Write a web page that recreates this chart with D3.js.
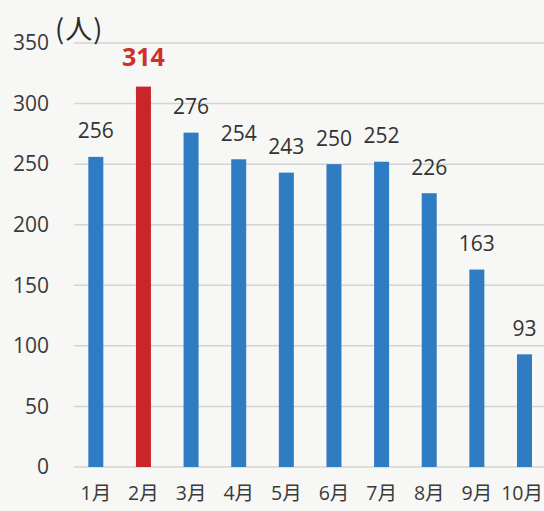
<!DOCTYPE html>
<html><head><meta charset="utf-8">
<script src="https://cdn.jsdelivr.net/npm/d3@7"></script>
<style>html,body{margin:0;padding:0;background:#f7f7f5;}svg{display:block;}</style>
</head><body>
<script>
const months = ["1月","2月","3月","4月","5月","6月","7月","8月","9月","10月"];
const values = [256,314,276,254,243,250,252,226,163,93];
const highlight = ["2月"];
const yTicks = [0,50,100,150,200,250,300,350];
const unitLabel = "(人)";

const W=544,H=511;
const svg=d3.select("body").append("svg").attr("width",W).attr("height",H);
svg.append("rect").attr("width",W).attr("height",H).attr("fill","#f7f7f5");

const y=d3.scaleLinear().domain([0,350]).range([467,43]);
const x=d3.scaleBand().domain(months).range([72.6,547.7]).paddingInner(0.685).paddingOuter(0.33);

const font="'Open Sans','Noto Sans CJK JP',sans-serif";
// grid
svg.append("g").selectAll("line").data(yTicks).join("line")
  .attr("x1",74).attr("x2",W).attr("y1",d=>y(d)).attr("y2",d=>y(d))
  .attr("stroke","#d4d4d2").attr("stroke-width",1.5);
// y labels
const yAxis=svg.append("g").attr("transform","translate(49,0)")
  .call(d3.axisLeft(y).tickValues(yTicks).tickSize(0).tickPadding(0));
yAxis.select(".domain").remove();
yAxis.selectAll("text").attr("font-family",font).attr("font-size",21).attr("fill","#3a3a3a");
// x labels
const xAxis=svg.append("g").attr("transform","translate(0,483)")
  .call(d3.axisBottom(x).tickSize(0).tickPadding(3));
xAxis.select(".domain").remove();
xAxis.selectAll("text").attr("font-family",font).attr("font-size",19.5).attr("fill","#3a3a3a");
xAxis.selectAll(".tick:last-of-type text").attr("text-anchor","end").attr("x",W-1-x(months[months.length-1])-x.bandwidth()/2);
// unit
svg.append("text").attr("x",55).attr("y",39).text(unitLabel)
  .attr("font-family","'Noto Sans CJK JP',sans-serif").attr("font-size",27).attr("letter-spacing",1).attr("fill","#2a2a2a");
// bars
const data=months.map((m,i)=>({m,v:values[i]}));
svg.append("g").selectAll("rect").data(data).join("rect")
  .attr("x",d=>x(d.m)).attr("width",x.bandwidth())
  .attr("y",d=>y(d.v)).attr("height",d=>y(0)-y(d.v))
  .attr("fill",d=>highlight.includes(d.m)?"#c9262b":"#2f7cc3");
// value labels
svg.append("g").selectAll("text").data(data).join("text")
  .attr("x",d=>x(d.m)+x.bandwidth()/2)
  .attr("y",d=>y(d.v)-(highlight.includes(d.m)?21:18.5))
  .attr("text-anchor","middle").text(d=>d.v)
  .attr("font-family",font)
  .attr("font-size",d=>highlight.includes(d.m)?25:21)
  .attr("font-weight",d=>highlight.includes(d.m)?"bold":"normal")
  .attr("fill",d=>highlight.includes(d.m)?"#d0302c":"#333");
</script>
</body></html>
